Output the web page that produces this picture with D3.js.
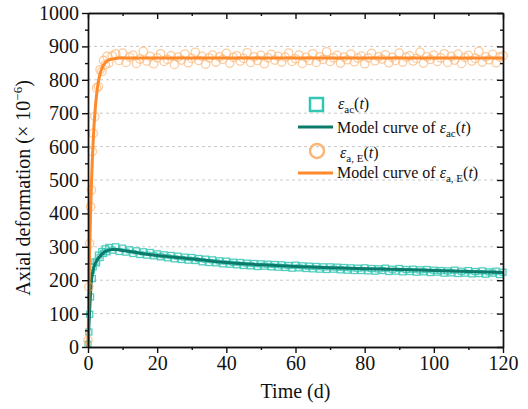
<!DOCTYPE html>
<html lang="en">
<head>
<meta charset="UTF-8">
<script src="https://cdn.jsdelivr.net/npm/d3@7"></script>
<title>Axial deformation</title>
<style>
  body { margin: 0; background: #fff; }
  svg text { font-family: "Liberation Serif", "Times New Roman", serif; fill: #111; }
  .axis path, .axis line { stroke: #111; stroke-width: 1.4px; }
  .axis text { font-size: 20px; }
  .grid line { stroke: #c8c8c8; stroke-dasharray: 3,3; }
</style>
</head>
<body>
<svg id="chart" width="528" height="409"></svg>
<script>
// tick labels
var xTicks = [0, 20, 40, 60, 80, 100, 120];
var xMinor = [10, 30, 50, 70, 90, 110];
var yTicks = [0, 100, 200, 300, 400, 500, 600, 700, 800, 900, 1000];
var yMinor = [50, 150, 250, 350, 450, 550, 650, 750, 850, 950];

// measured points (time in days)
var sTime = [0, 0.25, 0.5, 0.75, 1, 1.25, 1.5, 2, 2.5, 3, 3.5, 4, 4.5, 5, 5.5, 6, 7, 8, 9,
  10, 11, 12, 13, 14, 15, 16, 17, 18, 19, 20, 21, 22, 23, 24, 25, 26, 27, 28, 29,
  30, 31, 32, 33, 34, 35, 36, 37, 38, 39, 40, 41, 42, 43, 44, 45, 46, 47, 48, 49,
  50, 51, 52, 53, 54, 55, 56, 57, 58, 59, 60, 61, 62, 63, 64, 65, 66, 67, 68, 69,
  70, 71, 72, 73, 74, 75, 76, 77, 78, 79, 80, 81, 82, 83, 84, 85, 86, 87, 88, 89,
  90, 91, 92, 93, 94, 95, 96, 97, 98, 99, 100, 101, 102, 103, 104, 105, 106, 107, 108, 109,
  110, 111, 112, 113, 114, 115, 116, 117, 118, 119, 120];

var epsAE = [20, 180, 310, 420, 470, 585, 640, 690, 775, 780, 830, 825, 858, 845, 870, 850, 872, 878, 858,
  880, 852, 868, 874, 849, 862, 885, 856, 870, 848, 866, 878, 855, 861, 872, 846, 868, 859, 877, 851,
  864, 882, 858, 870, 847, 866, 874, 853, 869, 861, 879, 850, 867, 872, 856, 864, 881, 852, 869, 858,
  873, 848, 866, 876, 859, 870, 853, 868, 880, 855, 863, 874, 849, 867, 858, 878, 852, 869, 861, 884,
  855, 866, 873, 850, 868, 860, 877, 854, 865, 871, 848, 866, 879, 857, 869, 862, 875, 851, 867, 858,
  880, 853, 868, 872, 856, 864, 883, 850, 869, 861, 874, 855, 866, 878, 852, 870, 859, 877, 849, 867,
  873, 856, 864, 885, 853, 869, 860, 876, 851, 868, 872];

var epsAC = [8, 45, 98, 150, 230, 205, 240, 255, 252, 275, 268, 286, 280, 294, 285, 298, 290, 300, 286,
  296, 284, 291, 280, 288, 277, 285, 275, 283, 273, 279, 270, 276, 267, 274, 264, 272, 262, 269, 260,
  268, 259, 265, 255, 263, 253, 261, 252, 258, 249, 257, 248, 254, 246, 253, 244, 251, 243, 250, 241,
  249, 242, 248, 240, 247, 239, 246, 238, 244, 236, 245, 237, 243, 235, 242, 234, 241, 233, 240, 232,
  240, 233, 239, 231, 238, 230, 237, 229, 236, 229, 237, 228, 235, 227, 234, 229, 236, 226, 233, 227,
  235, 225, 232, 226, 233, 224, 231, 225, 232, 223, 230, 224, 229, 221, 228, 222, 230, 220, 227, 221,
  229, 219, 226, 220, 228, 218, 225, 221, 227, 217, 224];

// model curves
var mTime = [0, 0.25, 0.5, 0.75, 1, 1.25, 1.5, 2, 2.5, 3, 3.5, 4, 4.5, 5, 5.5, 6, 7, 8, 9, 10,
  12, 15, 20, 25, 30, 35, 40, 45, 50, 60, 70, 80, 90, 100, 110, 120];
var modelAE = [0, 163, 295, 402, 489, 560, 617, 702, 757, 794, 818, 834, 844, 851, 856, 859, 862, 864, 865, 865,
  865, 865, 865, 865, 865, 865, 865, 865, 865, 865, 865, 865, 865, 865, 865, 865];
var modelAC = [0, 60, 115, 162, 198, 218, 232, 248, 258, 266, 272, 278, 282, 286, 288, 290, 292, 292, 291, 289,
  286, 281, 274, 269, 264, 258, 253, 249, 246, 241, 237, 234, 232, 229, 226, 223];

var svg = d3.select("#chart"),
    pLeft = 88, pRight = 503, pTop = 13, pBottom = 347;

var x = d3.scaleLinear().domain([0, 120]).range([pLeft, pRight]),
    y = d3.scaleLinear().domain([0, 1000]).range([pBottom, pTop]);

var tealMark = "#33c6b4", tealLine = "#0c7a6b",
    orangeMark = "#fbb676", orangeLine = "#ff8a2c";

// dashed grid
svg.append("g").attr("class", "grid")
  .selectAll("line").data(yTicks.filter(function(d) { return d > 0 && d < 1000; }))
  .enter().append("line")
  .attr("x1", pLeft).attr("x2", pRight)
  .attr("y1", function(d) { return y(d); }).attr("y2", function(d) { return y(d); });

var line = d3.line()
  .x(function(d) { return x(d[0]); })
  .y(function(d) { return y(d[1]); })
  .curve(d3.curveMonotoneX);

var ac = sTime.map(function(t, i) { return [t, epsAC[i]]; }),
    ae = sTime.map(function(t, i) { return [t, epsAE[i]]; });

// teal squares
svg.append("g").selectAll("rect").data(ac).enter().append("rect")
  .attr("x", function(d) { return x(d[0]) - 3; })
  .attr("y", function(d) { return y(d[1]) - 3; })
  .attr("width", 6).attr("height", 6)
  .attr("fill", "none").attr("stroke", tealMark).attr("stroke-width", 1.3)
  .attr("stroke-opacity", 0.85);

svg.append("path")
  .attr("d", line(mTime.map(function(t, i) { return [t, modelAC[i]]; })))
  .attr("fill", "none").attr("stroke", tealLine).attr("stroke-width", 3);

// orange circles
svg.append("g").selectAll("circle").data(ae).enter().append("circle")
  .attr("cx", function(d) { return x(d[0]); })
  .attr("cy", function(d) { return y(d[1]); })
  .attr("r", 4.2)
  .attr("fill", "none").attr("stroke", orangeMark).attr("stroke-width", 1.3)
  .attr("stroke-opacity", 0.7);

svg.append("path")
  .attr("d", line(mTime.map(function(t, i) { return [t, modelAE[i]]; })))
  .attr("fill", "none").attr("stroke", orangeLine).attr("stroke-width", 3);

// axes
var fmt = d3.format("d");
svg.append("g").attr("class", "axis").attr("transform", "translate(0," + pBottom + ")")
  .call(d3.axisBottom(x).tickValues(xTicks).tickSize(6).tickSizeOuter(0).tickPadding(3).tickFormat(fmt));
svg.append("g").attr("class", "axis").attr("transform", "translate(0," + pBottom + ")")
  .call(d3.axisBottom(x).tickValues(xMinor).tickSize(3).tickSizeOuter(0).tickFormat(""));
svg.append("g").attr("class", "axis").attr("transform", "translate(0," + pTop + ")")
  .call(d3.axisTop(x).tickValues(xTicks).tickSize(-6).tickSizeOuter(0).tickFormat(""));
svg.append("g").attr("class", "axis").attr("transform", "translate(0," + pTop + ")")
  .call(d3.axisTop(x).tickValues(xMinor).tickSize(-3).tickSizeOuter(0).tickFormat(""));

svg.append("g").attr("class", "axis").attr("transform", "translate(" + pLeft + ",0)")
  .call(d3.axisLeft(y).tickValues(yTicks).tickSize(6).tickSizeOuter(0).tickPadding(3).tickFormat(fmt));
svg.append("g").attr("class", "axis").attr("transform", "translate(" + pLeft + ",0)")
  .call(d3.axisLeft(y).tickValues(yMinor).tickSize(3).tickSizeOuter(0).tickFormat(""));
svg.append("g").attr("class", "axis").attr("transform", "translate(" + pRight + ",0)")
  .call(d3.axisRight(y).tickValues(yTicks).tickSize(-6).tickSizeOuter(0).tickFormat(""));
svg.append("g").attr("class", "axis").attr("transform", "translate(" + pRight + ",0)")
  .call(d3.axisRight(y).tickValues(yMinor).tickSize(-3).tickSizeOuter(0).tickFormat(""));

// axis titles
svg.append("text").attr("x", (pLeft + pRight) / 2).attr("y", 398)
  .attr("text-anchor", "middle").style("font-size", "20px").text("Time (d)");

var yt = svg.append("text").attr("transform", "translate(30,188) rotate(-90)")
  .attr("text-anchor", "middle").style("font-size", "20px");
yt.append("tspan").text("Axial deformation (× 10");
yt.append("tspan").attr("dy", -8).style("font-size", "13px").text("−6");
yt.append("tspan").attr("dy", 8).text(")");

// legend
var lg = svg.append("g").style("font-size", "16px");

function epsLabel(g, xx, yy, prefix, sub) {
  var t = g.append("text").attr("x", xx).attr("y", yy);
  if (prefix) t.append("tspan").text(prefix);
  t.append("tspan").style("font-style", "italic").text("ε");
  t.append("tspan").attr("dy", 4).style("font-size", "11px").text(sub);
  t.append("tspan").attr("dy", -4).text("(");
  t.append("tspan").style("font-style", "italic").text("t");
  t.append("tspan").text(")");
}

lg.append("rect").attr("x", 310).attr("y", 98).attr("width", 13).attr("height", 13)
  .attr("fill", "none").attr("stroke", tealMark).attr("stroke-width", 2.5);
epsLabel(lg, 338, 109, "", "ac");

lg.append("line").attr("x1", 298).attr("x2", 333).attr("y1", 127).attr("y2", 127)
  .attr("stroke", tealLine).attr("stroke-width", 3);
epsLabel(lg, 337, 133, "Model curve of ", "ac");

lg.append("circle").attr("cx", 317).attr("cy", 151).attr("r", 7)
  .attr("fill", "none").attr("stroke", orangeMark).attr("stroke-width", 2.5);
epsLabel(lg, 340, 158, "", "a, E");

lg.append("line").attr("x1", 298).attr("x2", 333).attr("y1", 173).attr("y2", 173)
  .attr("stroke", orangeLine).attr("stroke-width", 3);
epsLabel(lg, 337, 178, "Model curve of ", "a, E");
</script>
</body>
</html>
